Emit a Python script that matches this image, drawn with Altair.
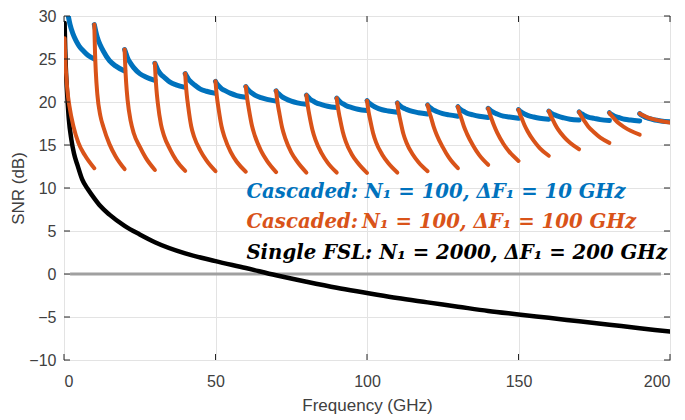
import altair as alt
import pandas as pd

# ---------------- data ----------------
x_ticks = [0, 50, 100, 150, 200]
y_ticks = [-10, -5, 0, 5, 10, 15, 20, 25, 30]

# Cascaded, dF1 = 10 GHz (blue): first partial segment, then one segment per 10 GHz
blue_first_f = [1.3, 2, 3, 4, 5, 6.5, 8, 10]
blue_first_snr = [30.2, 29.0, 27.9, 27.1, 26.5, 25.9, 25.4, 25.0]
seg_starts = [10, 20, 30, 40, 50, 60, 70, 80, 90, 100,
              110, 120, 130, 140, 150, 160, 170, 180, 190]
blue_offsets = [0, 0.5, 1, 2, 3, 5, 7, 10]
blue_segments = [
    [29.0, 28.2, 27.5, 26.6, 25.9, 24.8, 24.2, 23.6],
    [26.1, 25.6, 25.1, 24.5, 24.0, 23.3, 22.9, 22.5],
    [24.5, 24.1, 23.7, 23.2, 22.9, 22.3, 22.0, 21.7],
    [23.3, 23.0, 22.7, 22.3, 22.0, 21.5, 21.25, 21.0],
    [22.4, 22.1, 21.9, 21.55, 21.35, 21.0, 20.75, 20.55],
    [21.8, 21.55, 21.35, 21.05, 20.8, 20.5, 20.3, 20.1],
    [21.3, 21.05, 20.9, 20.6, 20.4, 20.1, 19.9, 19.75],
    [20.8, 20.6, 20.4, 20.15, 19.95, 19.7, 19.5, 19.35],
    [20.45, 20.25, 20.05, 19.8, 19.6, 19.35, 19.15, 19.0],
    [20.15, 19.95, 19.8, 19.55, 19.35, 19.1, 18.95, 18.8],
    [19.9, 19.7, 19.55, 19.3, 19.15, 18.9, 18.75, 18.6],
    [19.65, 19.45, 19.3, 19.05, 18.9, 18.65, 18.5, 18.35],
    [19.45, 19.25, 19.1, 18.9, 18.7, 18.5, 18.35, 18.2],
    [19.25, 19.1, 18.95, 18.75, 18.6, 18.35, 18.25, 18.1],
    [19.1, 18.95, 18.8, 18.6, 18.45, 18.25, 18.1, 18.0],
    [18.95, 18.8, 18.65, 18.5, 18.35, 18.15, 18.0, 17.9],
    [18.85, 18.7, 18.6, 18.4, 18.25, 18.1, 17.95, 17.85],
    [18.75, 18.6, 18.5, 18.3, 18.2, 18.0, 17.9, 17.8],
    [18.65, 18.5, 18.4, 18.2, 18.1, 17.9, 17.8, 17.7],
]

# Cascaded, dF1 = 100 GHz (orange)
orange_first_f = [0.2, 0.4, 0.7, 1.1, 1.8, 3.1, 4.7, 6.9, 10]
orange_first_snr = [27.4, 25.1, 23.25, 21.4, 19.5, 17.2, 15.3, 13.8, 12.3]
orange_offsets = [0, 0.25, 0.5, 1, 2, 3, 5, 7, 10]
orange_segments = [
    [29.0, 25.6, 23.5, 20.9, 18.4, 17.1, 15.1, 13.7, 12.2],
    [26.1, 23.9, 22.3, 20.2, 17.8, 16.4, 14.8, 13.5, 12.1],
    [24.5, 22.75, 21.5, 19.75, 17.4, 16.1, 14.5, 13.25, 12.0],
    [23.3, 21.9, 20.9, 19.45, 17.15, 15.9, 14.35, 13.2, 11.95],
    [22.4, 21.35, 20.5, 19.25, 17.15, 15.9, 14.2, 13.05, 11.9],
    [21.8, 21.0, 20.3, 19.2, 17.3, 16.05, 14.35, 13.15, 11.85],
    [21.3, 20.55, 19.85, 18.85, 17.0, 15.8, 14.15, 13.05, 11.8],
    [20.8, 20.1, 19.45, 18.45, 16.75, 15.6, 14.05, 12.95, 11.8],
    [20.45, 19.75, 19.15, 18.2, 16.55, 15.4, 13.9, 12.9, 11.75],
    [20.15, 19.5, 18.9, 18.0, 16.4, 15.3, 13.9, 12.9, 11.8],
    [19.9, 19.25, 18.7, 17.85, 16.3, 15.3, 13.95, 13.0, 11.95],
    [19.65, 19.3, 18.9, 18.35, 17.15, 16.2, 14.75, 13.55, 12.3],
    [19.45, 19.1, 18.75, 18.25, 17.15, 16.3, 14.95, 13.85, 12.7],
    [19.25, 18.95, 18.65, 18.15, 17.2, 16.4, 15.15, 14.2, 13.15],
    [19.1, 18.85, 18.55, 18.15, 17.3, 16.6, 15.5, 14.65, 13.75],
    [18.95, 18.75, 18.5, 18.15, 17.45, 16.85, 15.95, 15.25, 14.5],
    [18.85, 18.65, 18.5, 18.2, 17.65, 17.15, 16.45, 15.85, 15.25],
    [18.75, 18.6, 18.5, 18.3, 17.9, 17.55, 17.05, 16.65, 16.2],
    [18.65, 18.6, 18.55, 18.45, 18.3, 18.15, 17.95, 17.8, 17.6],
]

# Single FSL, N1 = 2000 (black)
black_f = [0.2, 0.4, 0.6, 0.9, 1.2, 1.6, 2.4, 3.3, 4.5, 6, 8, 10, 12, 15, 20,
           25, 30, 40, 50, 60, 70, 80, 90, 100, 110, 120, 130, 140, 150, 160,
           170, 180, 190, 200]
black_snr = [29.2, 26.2, 24.0, 21.8, 20.0, 18.0, 15.7, 14.0, 12.6, 11.0, 9.8,
             8.8, 7.9, 6.9, 5.6, 4.6, 3.7, 2.4, 1.5, 0.7, -0.15, -0.9, -1.6,
             -2.2, -2.8, -3.3, -3.8, -4.3, -4.7, -5.1, -5.5, -5.9, -6.3, -6.7]

# gray 0 dB reference line
zero_f = [2, 197]
zero_snr = [0, 0]

labels = [
    "Cascaded: N\u2081 = 100, \u0394F\u2081 = 10 GHz",
    "Cascaded:\u2009N\u2081 = 100, \u0394F\u2081 = 100 GHz",
    "Single FSL: N\u2081 = 2000, \u0394F\u2081 = 200 GHz",
]

# ---------------- tables ----------------
rows = []
for f, s in zip(blue_first_f, blue_first_snr):
    rows.append(("blue", 0, f, s))
for k, (st, vals) in enumerate(zip(seg_starts, blue_segments), start=1):
    for o, s in zip(blue_offsets, vals):
        rows.append(("blue", k, st + o, s))
for f, s in zip(orange_first_f, orange_first_snr):
    rows.append(("orange", 0, f, s))
for k, (st, vals) in enumerate(zip(seg_starts, orange_segments), start=1):
    for o, s in zip(orange_offsets, vals):
        rows.append(("orange", k, st + o, s))
for f, s in zip(black_f, black_snr):
    rows.append(("black", 0, f, s))
df = pd.DataFrame(rows, columns=["series", "seg", "f", "snr"])
zero_df = pd.DataFrame({"f": zero_f, "snr": zero_snr})
xt_df = pd.DataFrame({"f": x_ticks})
yt_df = pd.DataFrame({"snr": y_ticks})
lab_df = pd.DataFrame({
    "t": labels,
    "f": [60.2, 60.2, 60.2],
    "snr": [8.8, 5.35, 1.75],
    "c": ["blue", "orange", "black"],
})

W, H = 606, 344
BLUE, ORANGE = "#0072BD", "#D95319"
xs = alt.Scale(domain=[0, 200], nice=False, zero=False)
ys = alt.Scale(domain=[-10, 30], nice=False, zero=False)

xaxis = alt.Axis(values=x_ticks, title="Frequency (GHz)", ticks=False, domain=False,
                 labelPadding=13, titlePadding=8, grid=True)
yaxis = alt.Axis(values=y_ticks, title="SNR (dB)", ticks=False, domain=False,
                 labelPadding=8, titlePadding=1, grid=True)

X = alt.X("f:Q", scale=xs, axis=xaxis)
Y = alt.Y("snr:Q", scale=ys, axis=yaxis)

zero = alt.Chart(zero_df).mark_line(color="#a0a0a0", strokeWidth=3).encode(x=X, y=Y)


def series_layer(name, color, width):
    return alt.Chart(df).transform_filter(alt.datum.series == name).mark_line(
        color=color, strokeWidth=width, strokeCap="round", strokeJoin="round",
        clip=True, interpolate="monotone"
    ).encode(x=X, y=Y, detail="seg:N", order="f:Q")


blue = series_layer("blue", BLUE, 5)
black = series_layer("black", "#000000", 4.5)
orange = series_layer("orange", ORANGE, 4)

tick_color = "#262626"
xb = alt.Chart(xt_df).mark_rule(color=tick_color, strokeWidth=1).encode(
    x=X, y=alt.value(H), y2=alt.value(H - 6))
xtop = alt.Chart(xt_df).mark_rule(color=tick_color, strokeWidth=1).encode(
    x=X, y=alt.value(0), y2=alt.value(6))
yl = alt.Chart(yt_df).mark_rule(color=tick_color, strokeWidth=1).encode(
    y=Y, x=alt.value(0), x2=alt.value(6))
yr = alt.Chart(yt_df).mark_rule(color=tick_color, strokeWidth=1).encode(
    y=Y, x=alt.value(W - 6), x2=alt.value(W))

texts = alt.Chart(lab_df).mark_text(
    align="left", baseline="alphabetic", font="DejaVu Serif",
    fontStyle="italic", fontWeight="bold", fontSize=19.7
).encode(
    x=X, y=Y, text="t:N",
    color=alt.Color("c:N", scale=alt.Scale(domain=["blue", "orange", "black"],
                                           range=[BLUE, ORANGE, "#000000"]),
                    legend=None),
)

chart = alt.layer(zero, blue, black, orange, xb, xtop, yl, yr, texts).properties(
    width=W, height=H,
    padding={"left": 56, "top": 8, "right": 7, "bottom": 60},
    autosize=alt.AutoSizeParams(type="none"),
).configure_view(stroke=tick_color, strokeWidth=1).configure_axis(
    labelFont="Liberation Sans", labelFontSize=16, labelColor="#404040",
    titleFont="Liberation Sans", titleFontSize=17, titleColor="#404040",
    titleFontWeight="normal", gridColor="#e3e3e3", gridWidth=1,
)

chart.save("out.html", embed_options={"renderer": "svg", "actions": False})
